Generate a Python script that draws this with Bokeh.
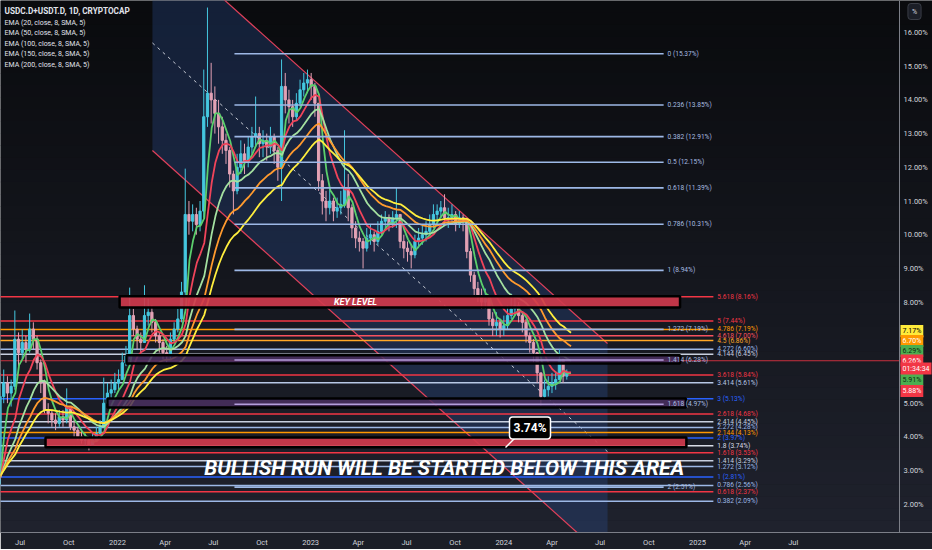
import numpy as np
import pandas as pd
from bokeh.plotting import figure
from bokeh.models import FixedTicker, Label, BoxAnnotation, Range1d, Span
from bokeh.core.properties import value
from bokeh.embed import file_html
from bokeh.resources import INLINE

# ------------------------------------------------------------------ data
symbol_title = "USDC.D+USDT.D, 1D, CRYPTOCAP"
ema_periods = [20, 50, 100, 150, 200]
ema_offset_days = 8
first_week = "2021-01-04"

closes = [3.0, 3.2, 3.1, 3.0, 2.9, 2.8, 2.7, 2.8, 2.9, 3.0, 2.9, 2.8, 2.8, 2.7, 2.6, 2.9, 2.8, 2.7, 2.6, 3.0,
          5.2, 5.6, 5.3, 5.5, 6.9, 6.5, 6.8, 6.6, 7.2, 6.9, 6.2, 5.6, 4.8, 4.7, 4.5, 4.4, 4.6, 4.5, 4.9, 4.3,
          4.2, 4.0, 3.9, 3.9, 3.75, 3.9, 4.1, 4.3, 5.0, 5.3, 5.4, 5.6, 5.7, 6.2, 6.4, 7.6, 7.2, 6.9, 6.8, 7.6,
          7.7, 7.4, 7.0, 6.8, 6.5, 6.4, 6.9, 7.2, 7.5, 8.3, 10.6, 10.4, 10.6, 10.3, 10.7, 13.5, 14.2, 14.0, 13.6, 13.2,
          12.8, 12.5, 11.8, 11.3, 12.0, 12.4, 12.2, 12.6, 12.9, 13.0, 12.7, 12.8, 12.6, 12.9, 12.5, 12.0, 14.4, 14.0, 13.8, 13.5,
          13.9, 14.3, 14.5, 14.6, 14.4, 13.9, 11.6, 11.0, 10.8, 11.0, 10.7, 10.8, 10.9, 11.4, 10.8, 10.2, 9.9, 9.8, 9.6, 9.9,
          10.0, 9.8, 10.1, 10.4, 10.5, 10.3, 10.5, 10.6, 9.8, 9.6, 9.5, 9.4, 9.8, 9.9, 10.0, 10.1, 10.3, 10.6, 10.7, 10.8,
          10.5, 10.5, 10.6, 10.3, 10.5, 10.4, 9.5, 8.8, 8.4, 8.2, 8.0, 8.1, 7.5, 7.3, 7.4, 7.2, 7.3, 7.6, 7.8, 7.9,
          7.6, 7.4, 7.0, 6.8, 6.5, 5.9, 5.2, 5.4, 5.5, 5.6, 5.7, 6.3, 5.8, 5.9]
highs = [3.2, 3.35, 3.3, 3.2, 3.1, 3.0, 2.9, 2.95, 3.05, 3.15, 3.1, 3.0, 2.95, 2.9, 2.8, 3.05, 3.0, 2.9, 2.8, 3.2,
         5.9, 6.0, 5.8, 5.7, 7.75, 7.1, 7.2, 7.0, 7.66, 7.4, 7.0, 6.3, 5.7, 5.0, 4.8, 4.7, 4.8, 4.8, 5.44, 4.9,
         4.5, 4.3, 4.2, 4.1, 4.0, 4.1, 4.3, 4.5, 5.76, 5.6, 5.7, 5.9, 6.0, 6.5, 6.7, 8.43, 7.8, 7.3, 7.1, 8.5,
         8.1, 7.9, 7.5, 7.1, 6.9, 6.7, 7.1, 7.4, 7.8, 8.6, 11.96, 11.0, 10.9, 10.8, 11.0, 14.9, 16.74, 15.1, 14.4, 14.0,
         13.5, 13.0, 12.6, 11.9, 12.4, 12.8, 12.7, 12.9, 13.2, 14.1, 13.2, 13.1, 13.0, 13.2, 13.0, 12.6, 15.2, 14.8, 14.3, 14.0,
         14.2, 14.6, 14.8, 14.9, 14.8, 14.5, 13.9, 11.8, 11.3, 11.4, 11.1, 11.1, 11.3, 13.1, 11.8, 10.9, 10.4, 10.1, 9.9, 10.2,
         10.3, 10.1, 10.4, 10.6, 10.7, 10.6, 10.7, 11.4, 10.6, 10.0, 9.8, 9.7, 10.0, 10.2, 10.3, 10.4, 10.6, 10.9, 10.9, 11.0,
         11.2, 10.8, 10.9, 10.7, 10.7, 10.6, 10.4, 9.6, 8.9, 8.6, 8.4, 8.4, 8.2, 7.7, 7.7, 7.5, 7.6, 7.9, 8.25, 8.2,
         8.0, 7.7, 7.5, 7.1, 6.9, 6.5, 5.9, 5.7, 5.8, 5.9, 5.95, 6.6, 6.3, 6.0]
lows = [2.85, 2.9, 3.0, 2.9, 2.8, 2.7, 2.6, 2.65, 2.75, 2.85, 2.8, 2.7, 2.65, 2.6, 2.5, 2.55, 2.7, 2.6, 2.5, 2.5,
        3.0, 5.0, 5.0, 4.9, 5.4, 6.1, 6.3, 6.2, 6.5, 6.6, 6.0, 5.3, 4.7, 4.4, 4.3, 4.2, 4.3, 4.3, 4.4, 4.2,
        4.0, 3.9, 3.8, 3.7, 3.6, 3.7, 3.9, 4.1, 4.3, 4.9, 5.1, 5.3, 5.4, 5.7, 6.1, 6.3, 7.0, 6.6, 6.5, 6.8,
        7.3, 7.1, 6.8, 6.5, 6.3, 6.2, 6.3, 6.8, 7.1, 7.4, 8.1, 10.0, 10.1, 10.0, 10.1, 10.5, 13.2, 13.3, 13.0, 12.7,
        12.4, 12.1, 11.4, 10.6, 11.2, 11.8, 11.8, 12.0, 12.4, 12.6, 12.3, 12.3, 12.2, 12.4, 12.1, 11.6, 11.0, 13.6, 13.3, 13.2,
        13.4, 13.8, 14.1, 14.2, 14.0, 13.5, 11.3, 10.6, 10.4, 10.6, 10.4, 10.5, 10.6, 10.8, 10.4, 9.9, 9.6, 9.5, 9.0, 9.5,
        9.7, 9.5, 9.7, 10.0, 10.2, 10.1, 10.2, 10.2, 9.6, 9.3, 9.2, 9.0, 9.3, 9.6, 9.7, 9.8, 10.0, 10.2, 10.4, 10.5,
        10.3, 10.2, 10.3, 10.1, 10.2, 10.1, 9.3, 8.6, 8.2, 8.0, 7.8, 7.8, 7.3, 7.0, 7.0, 6.95, 7.0, 7.2, 7.5, 7.6,
        7.4, 7.1, 6.8, 6.5, 6.2, 5.6, 4.93, 5.1, 5.2, 5.3, 5.4, 5.7, 5.6, 5.7]

top_fib_levels = [0, 0.236, 0.382, 0.5, 0.618, 0.786, 1, 1.272, 1.414, 1.618, 2]
top_fib_values = [15.37, 13.85, 12.91, 12.15, 11.39, 10.31, 8.94, 7.19, 6.28, 4.97, 2.51]
top_fib_from, top_fib_to = "2022-08-10", "2024-10-29"

low_fib_levels = [0.382, 0.618, 0.786, 1, 1.272, 1.414, 1.618, 1.8, 2, 2.144, 2.272, 2.414,
                  2.618, 3, 3.414, 3.618, 4.144, 4.272, 4.5, 4.618, 4.786, 5, 5.618]
low_fib_values = [2.09, 2.37, 2.56, 2.81, 3.12, 3.29, 3.53, 3.74, 3.97, 4.13, 4.28, 4.45,
                  4.68, 5.13, 5.61, 5.84, 6.45, 6.60, 6.86, 7.00, 7.19, 7.44, 8.16]
low_fib_from, low_fib_to = "2021-04-01", "2025-01-31"

zone_from = ["2022-01-05", "2022-01-18", "2021-12-13", "2021-08-18"]
zone_to = ["2024-11-29", "2024-11-29", "2024-12-10", "2024-12-11"]
zone_low = [7.84, 6.18, 4.87, 3.69]
zone_high = [8.17, 6.42, 5.14, 3.98]
key_level_text = "KEY LEVEL"

channel_dates = ["2022-03-08", "2024-07-15"]
channel_upper = [18.88, 6.77]
channel_lower = [12.50, 0.35]

last_price = 6.26
countdown = "01:34:34"
tag_values = [7.17, 6.70, 6.29, 6.26, 5.91, 5.88]

callout_value = 3.74
headline = "BULLISH RUN WILL BE STARTED BELOW THIS AREA"

xtick_dates = ["2021-07-01", "2021-10-01", "2022-01-01", "2022-04-01", "2022-07-01", "2022-10-01",
               "2023-01-01", "2023-04-01", "2023-07-01", "2023-10-01", "2024-01-01", "2024-04-01",
               "2024-07-01", "2024-10-01", "2025-01-01", "2025-04-01", "2025-07-01"]
xtick_labels = ["Jul", "Oct", "2022", "Apr", "Jul", "Oct", "2023", "Apr", "Jul", "Oct", "2024", "Apr",
                "Jul", "Oct", "2025", "Apr", "Jul"]
ytick_values = [2, 3, 4, 5, 6, 7, 8, 9, 10, 11, 12, 13, 14, 15, 16]

# ------------------------------------------------------------------ layout / style
EPOCH = pd.Timestamp("2022-01-01")
PX_DAY = 0.5292          # pixels per day
PX_PCT = 33.7            # pixels per percent
X_EPOCH_PX = 117.0       # pixel of 2022-01-01
Y16_PX = 32.0            # pixel of 16 %
FW, FH = 932, 532
AXIS_PX = 899            # price-scale separator


def day(s):
    return float((pd.Timestamp(s) - EPOCH).days)


def px_day(px):
    return (px - X_EPOCH_PX) / PX_DAY


def py_val(py):
    return 16.0 - (py - Y16_PX) / PX_PCT


X_LO, X_HI = px_day(0), px_day(FW)
Y_HI, Y_LO = py_val(0), py_val(FH)

FONT = "Roboto"

p = figure(frame_width=FW, frame_height=FH, x_range=Range1d(X_LO, X_HI), y_range=Range1d(Y_LO, Y_HI),
           y_axis_location=None, output_backend="svg", toolbar_location=None,
           min_border_left=0, min_border_top=0, min_border_right=0, min_border_bottom=0,
           background_fill_color="#15171d", border_fill_color="#1b1e27", outline_line_color=None)
p.xgrid.visible = False
p.ygrid.visible = False

# background vertical gradient
top_rgb = np.array([10, 11, 14])
bot_rgb = np.array([31, 34, 45])
nb = 44
bh = (Y_HI - Y_LO) / nb
for i in range(nb):
    t = i / (nb - 1)
    r, g, b = (top_rgb * (1 - t) + bot_rgb * t).astype(int)
    p.add_layout(BoxAnnotation(top=Y_HI - i * bh, bottom=Y_HI - (i + 1) * bh - 0.01,
                               fill_color=f"#{r:02x}{g:02x}{b:02x}", fill_alpha=1.0,
                               line_color=None, level="underlay"))

# channel
cx = [day(s) for s in channel_dates]
p.patch([cx[0], cx[1], cx[1], cx[0]], [channel_upper[0], channel_upper[1], channel_lower[1], channel_lower[0]],
        fill_color="#2b4f92", fill_alpha=0.32, line_color=None)
p.line(cx, channel_upper, line_color="#e0405a", line_width=1.2)
p.line(cx, channel_lower, line_color="#e0405a", line_width=1.2)
p.line(cx, [(a + b) / 2 for a, b in zip(channel_upper, channel_lower)],
       line_color="#c8ccd6", line_width=1, line_dash="3 4")

# lower fib (drawn below zones)
low_cols = ["#9db8e6", "#f23645", "#9db8e6", "#2962ff", "#9db8e6", "#c8d0e0", "#f23645", "#d8dce6",
            "#2962ff", "#ff9800", "#9db8e6", "#c8d0e0", "#f23645", "#2962ff", "#b8c8e6", "#f23645",
            "#c8d0e0", "#9db8e6", "#ffa726", "#f7525f", "#ff9800", "#f23645", "#f23645"]
lf0, lf1 = day(low_fib_from), day(low_fib_to)
p.segment(x0=[lf0] * len(low_fib_values), y0=low_fib_values, x1=[lf1] * len(low_fib_values),
          y1=low_fib_values, line_color=low_cols, line_width=1.5)
p.text(x=[lf1 + 7.5] * len(low_fib_values), y=low_fib_values,
       text=[f"{l:g} ({v:.2f}%)" for l, v in zip(low_fib_levels, low_fib_values)],
       text_color=low_cols, text_font=value(FONT), text_font_size="6.6px",
       text_baseline="middle", text_align="left")

# price line
p.segment(x0=[X_LO], y0=[last_price], x1=[px_day(AXIS_PX)], y1=[last_price],
          line_color="#f23645", line_width=1, line_alpha=0.8)

# candles
dates = pd.date_range(first_week, periods=len(closes), freq="7D")
xd = np.array([(t - EPOCH).days for t in dates], dtype=float)
c = np.array(closes, dtype=float)
o = np.r_[c[0], c[:-1]]
h = np.maximum(np.array(highs, dtype=float), np.maximum(o, c))
l = np.minimum(np.array(lows, dtype=float), np.minimum(o, c))
cols = np.where(c >= o, "#45c8e0", "#e3a2b5").tolist()
p.segment(x0=xd, y0=h, x1=xd, y1=l, line_color=cols, line_width=1)
p.vbar(x=xd, top=np.maximum(o, c), bottom=np.minimum(o, c), width=4.2, fill_color=cols, line_color=cols)

# EMAs
ema_cols = ["#5ccf6c", "#f0445a", "#a4e0a0", "#ff9a2e", "#ffee3d"]
s = pd.Series(c)
for per, col in zip(ema_periods, ema_cols):
    e = s.ewm(span=per / 7.0, adjust=False).mean()
    p.line(xd + ema_offset_days, e.values, line_color=col, line_width=1.8)

# zones
zone_fill = ["#cf3a4c", "#4a2f60", "#4a2f60", "#cf3a4c"]
zone_alpha = [0.92, 0.85, 0.85, 0.92]
p.quad(left=[day(s) for s in zone_from], right=[day(s) for s in zone_to], bottom=zone_low, top=zone_high,
       fill_color=zone_fill, fill_alpha=zone_alpha, line_color="#000000", line_width=2.5)
p.text(x=[px_day(355)], y=[(zone_low[0] + zone_high[0]) / 2], text=[key_level_text], text_color="white",
       text_font=value(FONT), text_font_style="bold italic", text_font_size="9px",
       text_align="center", text_baseline="middle")

# top fib
top_cols = ["#9db8e6"] * 8 + ["#b39ddb", "#b39ddb", "#9db8e6"]
tf0, tf1 = day(top_fib_from), day(top_fib_to)
p.segment(x0=[tf0] * len(top_fib_values), y0=top_fib_values, x1=[tf1] * len(top_fib_values),
          y1=top_fib_values, line_color=top_cols, line_width=1.6)
p.text(x=[tf1 + 7.5] * len(top_fib_values), y=top_fib_values,
       text=[f"{l:g} ({v:.2f}%)" for l, v in zip(top_fib_levels, top_fib_values)],
       text_color="#a8bde0", text_font=value(FONT), text_font_size="6.6px",
       text_baseline="middle", text_align="left")

# headline and callout
p.text(x=[px_day(444)], y=[py_val(467.5)], text=[headline], text_color="white",
       text_font=value(FONT), text_font_style="bold italic", text_font_size="21px",
       text_align="center", text_baseline="middle")
p.segment(x0=[px_day(515)], y0=[py_val(437)], x1=[px_day(505)], y1=[py_val(447)],
          line_color="white", line_width=1.5)
p.add_layout(Label(x=px_day(529.5), y=py_val(427.5), text=f"{callout_value:.2f}%", text_color="white",
                   text_font=FONT, text_font_style="bold", text_font_size="12px",
                   text_align="center", text_baseline="middle",
                   background_fill_color="black", border_line_color="white", border_line_width=1.5,
                   padding=4, border_radius=3))

# legend texts
legend_lines = [symbol_title] + [f"EMA ({per}, close, 8, SMA, 5)" for per in ema_periods]
for i, t in enumerate(legend_lines):
    p.add_layout(Label(x=px_day(4), y=py_val(10 if i == 0 else 11.5 + 10.5 * i), text=t,
                       text_color="#e0e3eb", text_font=FONT,
                       text_font_size="8.2px" if i == 0 else "7px",
                       text_font_style="bold" if i == 0 else "normal", text_baseline="middle"))

# price scale (right)
p.add_layout(Span(location=px_day(AXIS_PX), dimension="height", line_color="#7c7f88", line_width=1))
p.text(x=[px_day(AXIS_PX + 4)] * len(ytick_values), y=ytick_values,
       text=[f"{v:.2f}%" for v in ytick_values], text_color="#d1d4dc", text_font=value(FONT),
       text_font_size="7.5px", text_baseline="middle", text_align="left")

# x axis
p.xaxis.ticker = FixedTicker(ticks=[day(s) for s in xtick_dates])
p.xaxis.major_label_overrides = {day(s): lab for s, lab in zip(xtick_dates, xtick_labels)}
p.xaxis.axis_line_color = "#7c7f88"
p.xaxis.major_tick_line_color = None
p.xaxis.minor_tick_line_color = None
p.xaxis.major_tick_out = 0
p.xaxis.major_tick_in = 0
p.xaxis.minor_tick_out = 0
p.xaxis.minor_tick_in = 0
p.xaxis.major_label_text_color = "#d1d4dc"
p.xaxis.major_label_text_font = FONT
p.xaxis.major_label_text_font_size = "7.5px"
p.xaxis.major_label_standoff = 5

# right axis tags
tag_bg = ["#ffeb3b", "#ff9800", "#4caf50", "#f23645", "#4caf50", "#f23645"]
tag_fg = ["#000000", "#ffffff", "#0b2a0d", "#ffffff", "#0b2a0d", "#ffffff"]
tag_py = [330.5, 340.5, 350.5, 360.0, 379.5, 390.5]
for v, bg, fg, py in zip(tag_values, tag_bg, tag_fg, tag_py):
    p.add_layout(Label(x=px_day(AXIS_PX + 1), y=py_val(py), text=f"{v:.2f}%", text_color=fg,
                       text_font=FONT, text_font_size="7px", text_baseline="middle",
                       background_fill_color=bg, padding=2))
p.add_layout(Label(x=px_day(AXIS_PX + 1), y=py_val(368), text=countdown, text_color="#ffffff",
                   text_font=FONT, text_font_size="7px", text_baseline="middle",
                   background_fill_color="#f23645", padding=2))
p.add_layout(Label(x=px_day(914), y=py_val(11), text="%", text_color="#d1d4dc",
                   text_font=FONT, text_font_size="7px", text_baseline="middle", text_align="center",
                   background_fill_color="#1b1e27", border_line_color="#3a3d46", padding=4,
                   border_radius=3))

open("out.html", "w").write(file_html(p, INLINE))
